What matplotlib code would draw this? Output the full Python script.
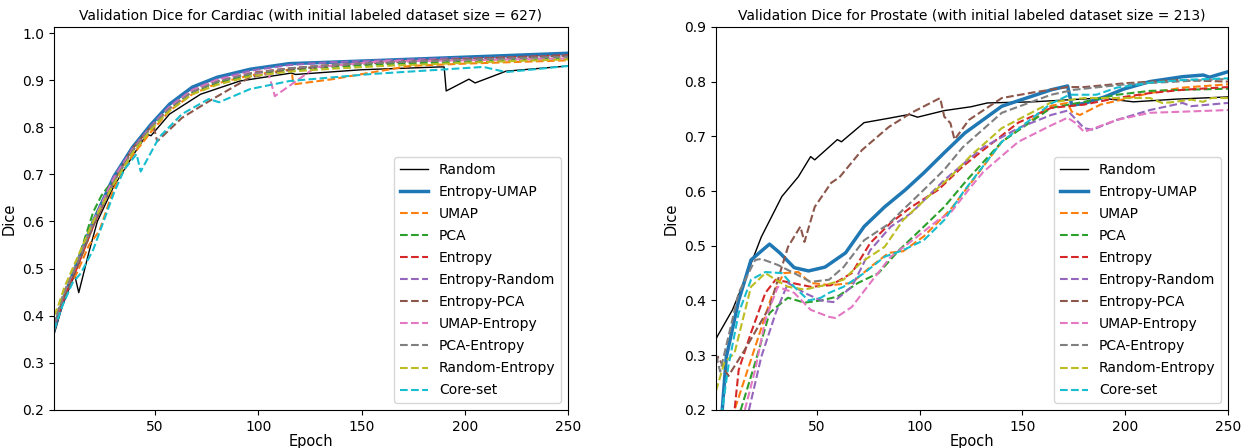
import matplotlib
matplotlib.use('Agg')
import matplotlib.pyplot as plt

labels = ['Random', 'Entropy-UMAP', 'UMAP', 'PCA', 'Entropy', 'Entropy-Random',
          'Entropy-PCA', 'UMAP-Entropy', 'PCA-Entropy', 'Random-Entropy', 'Core-set']

# Cardiac curves (epoch, dice)
card_random_x = [1, 5, 11, 13, 18, 22, 30, 40, 46, 48, 57, 72, 91, 116, 118, 150, 188, 190, 191, 202, 205, 220, 250]
card_random_y = [0.36, 0.42, 0.487, 0.449, 0.536, 0.60, 0.675, 0.745, 0.785, 0.782, 0.828, 0.87, 0.898, 0.915, 0.912,
                 0.922, 0.928, 0.928, 0.877, 0.902, 0.894, 0.919, 0.93]
card_eu_x = [1, 3, 6, 12, 20, 30, 39, 48, 57, 68, 80, 96, 115, 135, 160, 190, 220, 250]
card_eu_y = [0.37, 0.40, 0.44, 0.51, 0.60, 0.695, 0.757, 0.806, 0.849, 0.885, 0.906, 0.923, 0.935, 0.938, 0.942,
             0.947, 0.952, 0.957]
card_umap_x = [1, 3, 6, 12, 18, 23, 30, 39, 48, 57, 68, 80, 96, 116, 117, 136, 173, 200, 250]
card_umap_y = [0.37, 0.40, 0.44, 0.49, 0.55, 0.58, 0.67, 0.74, 0.79, 0.835, 0.87, 0.893, 0.91, 0.923, 0.891,
               0.902, 0.93, 0.935, 0.942]
card_pca_x = [1, 3, 6, 12, 20, 24, 30, 39, 48, 57, 68, 80, 96, 115, 135, 160, 190, 220, 250]
card_pca_y = [0.38, 0.41, 0.45, 0.51, 0.62, 0.655, 0.69, 0.75, 0.80, 0.84, 0.875, 0.895, 0.912, 0.922, 0.928,
              0.934, 0.938, 0.942, 0.946]
card_ent_x = [1, 3, 6, 12, 20, 30, 39, 48, 57, 68, 80, 96, 115, 135, 160, 190, 220, 250]
card_ent_y = [0.38, 0.40, 0.44, 0.50, 0.59, 0.685, 0.75, 0.80, 0.84, 0.877, 0.898, 0.915, 0.925, 0.932, 0.938,
              0.943, 0.948, 0.953]
card_er_x = [1, 3, 6, 12, 20, 30, 39, 48, 57, 68, 80, 96, 115, 135, 160, 190, 220, 250]
card_er_y = [0.38, 0.41, 0.45, 0.51, 0.60, 0.695, 0.755, 0.803, 0.845, 0.88, 0.902, 0.92, 0.932, 0.938, 0.942,
             0.946, 0.948, 0.952]
card_ep_x = [1, 3, 6, 12, 20, 30, 39, 49, 51, 63, 76, 96, 120, 150, 200, 250]
card_ep_y = [0.37, 0.40, 0.44, 0.50, 0.59, 0.685, 0.755, 0.806, 0.77, 0.82, 0.855, 0.906, 0.925, 0.935, 0.945, 0.952]
card_ue_x = [1, 3, 6, 12, 20, 30, 39, 48, 57, 68, 80, 96, 105, 108, 128, 160, 200, 250]
card_ue_y = [0.38, 0.41, 0.45, 0.51, 0.60, 0.69, 0.752, 0.80, 0.842, 0.878, 0.9, 0.915, 0.913, 0.866, 0.928,
             0.94, 0.942, 0.946]
card_pe_x = [1, 3, 6, 12, 20, 30, 39, 48, 57, 68, 80, 96, 115, 135, 160, 190, 220, 250]
card_pe_y = [0.38, 0.41, 0.45, 0.51, 0.595, 0.685, 0.75, 0.80, 0.84, 0.875, 0.897, 0.914, 0.925, 0.932, 0.937,
             0.942, 0.946, 0.95]
card_re_x = [1, 3, 6, 12, 20, 30, 39, 48, 57, 68, 80, 96, 115, 135, 160, 190, 220, 250]
card_re_y = [0.40, 0.42, 0.46, 0.52, 0.60, 0.68, 0.745, 0.795, 0.835, 0.87, 0.89, 0.908, 0.918, 0.924, 0.93,
             0.935, 0.94, 0.944]
card_core_x = [1, 5, 10, 12, 14, 20, 25, 30, 35, 41, 43, 52, 63, 76, 81, 96, 115, 155, 209, 220, 250]
card_core_y = [0.37, 0.42, 0.47, 0.48, 0.49, 0.54, 0.60, 0.66, 0.71, 0.743, 0.706, 0.779, 0.828, 0.86, 0.853,
               0.881, 0.898, 0.913, 0.928, 0.917, 0.93]

# Prostate curves
pros_random_x = [1, 2, 9, 15, 23, 33, 41, 47, 49, 60, 62, 73, 85, 95, 99, 112, 125, 133, 155, 188, 204, 225, 250]
pros_random_y = [0.33, 0.337, 0.383, 0.438, 0.516, 0.59, 0.626, 0.663, 0.657, 0.694, 0.69, 0.725, 0.733, 0.74,
                 0.735, 0.747, 0.754, 0.761, 0.763, 0.77, 0.763, 0.768, 0.772]
pros_eu_x = [1, 4, 6, 12, 18, 22, 27, 32, 39, 46, 54, 64, 73, 83, 93, 102, 112, 122, 140, 164, 172, 174, 180,
             190, 199, 212, 228, 238, 241, 250]
pros_eu_y = [0.15, 0.2, 0.297, 0.40, 0.474, 0.487, 0.503, 0.487, 0.46, 0.454, 0.461, 0.487, 0.535, 0.571, 0.602,
             0.633, 0.67, 0.706, 0.755, 0.785, 0.792, 0.757, 0.76, 0.772, 0.786, 0.80, 0.809, 0.812, 0.808, 0.818]
pros_umap_x = [1, 10, 20, 28, 34, 41, 47, 57, 67, 76, 85, 92, 102, 115, 125, 140, 164, 172, 174, 178, 188, 212,
               228, 250]
pros_umap_y = [0.12, 0.2, 0.315, 0.407, 0.45, 0.452, 0.432, 0.428, 0.432, 0.461, 0.487, 0.49, 0.517, 0.566, 0.615,
               0.69, 0.756, 0.761, 0.745, 0.739, 0.758, 0.779, 0.789, 0.795]
pros_pca_x = [1, 13, 20, 27, 31, 36, 44, 52, 60, 70, 80, 90, 99, 112, 123, 140, 164, 180, 196, 212, 228, 250]
pros_pca_y = [0.12, 0.2, 0.286, 0.377, 0.39, 0.405, 0.396, 0.40, 0.407, 0.432, 0.45, 0.492, 0.524, 0.571, 0.62,
              0.69, 0.752, 0.763, 0.776, 0.783, 0.785, 0.787]
pros_ent_x = [1, 10, 12, 18, 25, 30, 38, 47, 57, 67, 76, 86, 96, 109, 121, 131, 148, 164, 180, 196, 212, 228, 250]
pros_ent_y = [0.12, 0.2, 0.273, 0.341, 0.414, 0.438, 0.432, 0.425, 0.428, 0.45, 0.505, 0.542, 0.571, 0.602, 0.645,
              0.675, 0.725, 0.752, 0.758, 0.77, 0.779, 0.785, 0.79]
pros_er_x = [1, 12, 17, 23, 30, 36, 44, 52, 58, 67, 76, 86, 96, 112, 123, 131, 148, 164, 172, 174, 180, 184, 196,
             212, 228, 232, 250]
pros_er_y = [0.1, 0.15, 0.2, 0.297, 0.377, 0.432, 0.414, 0.40, 0.397, 0.425, 0.492, 0.535, 0.56, 0.62, 0.655, 0.68,
             0.715, 0.739, 0.747, 0.739, 0.715, 0.712, 0.73, 0.748, 0.761, 0.755, 0.761]
pros_ep_x = [1, 2, 7, 15, 27, 36, 42, 44, 49, 57, 61, 72, 85, 96, 110, 112, 115, 117, 124, 140, 155, 172, 180,
             200, 225, 250]
pros_ep_y = [0.285, 0.297, 0.262, 0.31, 0.388, 0.498, 0.535, 0.507, 0.571, 0.615, 0.625, 0.675, 0.717, 0.743, 0.77,
             0.736, 0.724, 0.694, 0.73, 0.77, 0.78, 0.79, 0.79, 0.797, 0.803, 0.80]
pros_ue_x = [1, 15, 20, 25, 31, 39, 47, 56, 59, 67, 76, 86, 99, 109, 115, 125, 131, 148, 164, 172, 176, 180, 196,
             212, 228, 250]
pros_ue_y = [0.1, 0.2, 0.273, 0.365, 0.425, 0.414, 0.383, 0.37, 0.368, 0.388, 0.432, 0.48, 0.517, 0.547, 0.56,
             0.608, 0.635, 0.69, 0.72, 0.734, 0.724, 0.708, 0.73, 0.743, 0.745, 0.748]
pros_pe_x = [1, 3, 12, 20, 23, 31, 39, 47, 56, 63, 73, 85, 92, 102, 112, 121, 140, 164, 175, 200, 225, 250]
pros_pe_y = [0.30, 0.27, 0.414, 0.474, 0.476, 0.465, 0.45, 0.434, 0.438, 0.461, 0.51, 0.54, 0.566, 0.602, 0.639,
             0.68, 0.743, 0.776, 0.785, 0.795, 0.80, 0.805]
pros_re_x = [1, 5, 10, 14, 18, 25, 30, 36, 44, 54, 63, 72, 83, 92, 104, 115, 125, 140, 164, 180, 212, 218, 222,
             232, 238, 242, 250]
pros_re_y = [0.235, 0.286, 0.304, 0.365, 0.425, 0.45, 0.438, 0.425, 0.42, 0.428, 0.438, 0.471, 0.498, 0.547, 0.589,
             0.626, 0.665, 0.715, 0.762, 0.77, 0.77, 0.761, 0.762, 0.767, 0.763, 0.77, 0.77]
pros_core_x = [1, 4, 7, 12, 18, 25, 33, 39, 46, 52, 56, 63, 73, 83, 92, 102, 112, 121, 140, 164, 173, 186, 196,
               212, 228, 250]
pros_core_y = [0.15, 0.2, 0.28, 0.377, 0.438, 0.452, 0.45, 0.425, 0.40, 0.405, 0.414, 0.425, 0.45, 0.48, 0.492,
               0.51, 0.547, 0.597, 0.69, 0.76, 0.776, 0.776, 0.789, 0.798, 0.803, 0.806]

cardiac = [(card_random_x, card_random_y), (card_eu_x, card_eu_y), (card_umap_x, card_umap_y),
           (card_pca_x, card_pca_y), (card_ent_x, card_ent_y), (card_er_x, card_er_y),
           (card_ep_x, card_ep_y), (card_ue_x, card_ue_y), (card_pe_x, card_pe_y),
           (card_re_x, card_re_y), (card_core_x, card_core_y)]
prostate = [(pros_random_x, pros_random_y), (pros_eu_x, pros_eu_y), (pros_umap_x, pros_umap_y),
            (pros_pca_x, pros_pca_y), (pros_ent_x, pros_ent_y), (pros_er_x, pros_er_y),
            (pros_ep_x, pros_ep_y), (pros_ue_x, pros_ue_y), (pros_pe_x, pros_pe_y),
            (pros_re_x, pros_re_y), (pros_core_x, pros_core_y)]

colors = ['black', 'tab:blue', 'tab:orange', 'tab:green', 'tab:red', 'tab:purple',
          'tab:brown', 'tab:pink', 'tab:gray', 'tab:olive', 'tab:cyan']

fig = plt.figure(figsize=(12.41, 4.48), dpi=100)
ax1 = fig.add_axes([0.0435, 0.085, 0.4142, 0.855])
ax2 = fig.add_axes([0.577, 0.085, 0.4125, 0.855])

def draw(ax, series, title, ylim, yticks):
    for i, (x, y) in enumerate(series):
        if i == 0:
            ax.plot(x, y, color=colors[i], lw=1, label=labels[i])
        elif i == 1:
            ax.plot(x, y, color=colors[i], lw=2.5, label=labels[i])
        else:
            ax.plot(x, y, color=colors[i], lw=1.5, ls='--', label=labels[i])
    ax.set_xlim(1, 250)
    ax.set_ylim(*ylim)
    ax.set_xticks([50, 100, 150, 200, 250])
    ax.set_yticks(yticks)
    ax.set_title(title, fontsize=10, pad=5)
    ax.set_xlabel('Epoch', fontsize=10.5, labelpad=0)
    ax.set_ylabel('Dice', fontsize=10.5)
    ax.legend(loc='lower right', fontsize=10, labelspacing=0.58)

draw(ax1, cardiac, 'Validation Dice for Cardiac (with initial labeled dataset size = 627)',
     (0.2, 1.013), [0.2, 0.3, 0.4, 0.5, 0.6, 0.7, 0.8, 0.9, 1.0])
draw(ax2, prostate, 'Validation Dice for Prostate (with initial labeled dataset size = 213)',
     (0.2, 0.9), [0.2, 0.3, 0.4, 0.5, 0.6, 0.7, 0.8, 0.9])

fig.savefig('out.png', dpi=100)
